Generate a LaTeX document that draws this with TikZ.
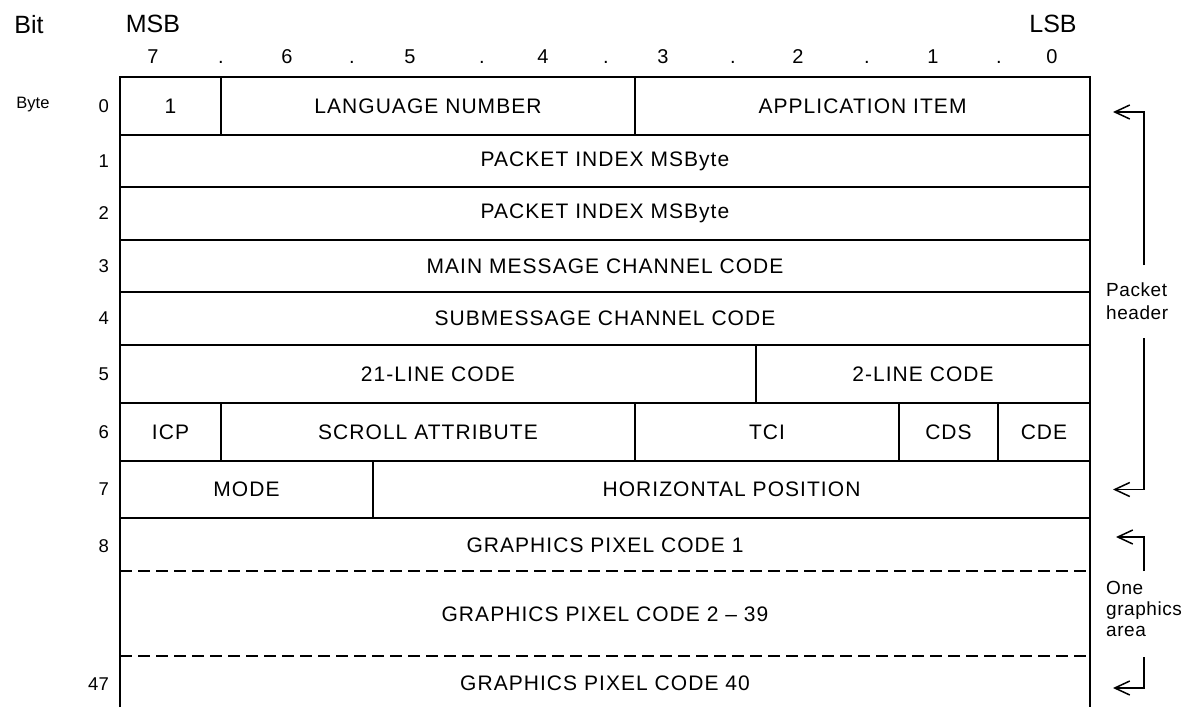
\documentclass[tikz,border=0pt]{standalone}
\usepackage{fontspec}
\setmainfont{Liberation Sans}
\newfontfamily\lab[LetterSpace=5]{Liberation Sans}
\newfontfamily\sidefont[LetterSpace=3]{Liberation Sans}
\usetikzlibrary{arrows.meta}
\begin{document}
\begin{tikzpicture}[x=1pt,y=-1pt,
  cell/.style={font=\lab\fontsize{21}{24}\selectfont, inner sep=0pt},
  big/.style={font=\fontsize{25}{28}\selectfont, inner sep=0pt},
  bitnum/.style={font=\fontsize{20}{24}\selectfont, inner sep=0pt, anchor=base},
  bytenum/.style={font=\fontsize{18.5}{22}\selectfont, inner sep=0pt, anchor=east},
  side/.style={inner sep=0pt, anchor=west, align=left},
  tbl/.style={line width=1.6pt},
  dsh/.style={line width=1.8pt, dash pattern=on 12pt off 6pt},
  brk/.style={line width=1.4pt},
  arr/.style={brk, -{Straight Barb[length=15pt,width=14pt,line width=1.5pt]}}
]
\useasboundingbox (0,0) rectangle (1194,707);
% header
\node[big] (bit) at (29,25) {Bit};
\node[big] (msb) at (153,24) {MSB};
\node[big] (lsb) at (1053,24) {LSB};
\node[font=\fontsize{16.5}{20}\selectfont, inner sep=0pt] (byte) at (33,105) {Byte};
\foreach \x/\t/\n in {153/7/b7,221/./d1,287/6/b6,352/./d2,410/5/b5,482/./d3,543/4/b4,606/./d4,663/3/b3,733/./d5,798/2/b2,867/./d6,933/1/b1,999/./d7,1052/0/b0}
  \node[bitnum] (\n) at (\x,63) {\t};
% table frame
\draw[tbl] (120,707) -- (120,77) -- (1090,77) -- (1090,707);
\foreach \y in {135,187,240,292,345,403,461,518}
  \draw[tbl] (120,\y) -- (1090,\y);
\draw[tbl] (221,77) -- (221,135);
\draw[tbl] (635,77) -- (635,135);
\draw[tbl] (756,345) -- (756,403);
\draw[tbl] (221,403) -- (221,461);
\draw[tbl] (635,403) -- (635,461);
\draw[tbl] (899,403) -- (899,461);
\draw[tbl] (998,403) -- (998,461);
\draw[tbl] (373,461) -- (373,518);
\draw[dsh] (120,571) -- (1090,571);
\draw[dsh] (120,656) -- (1090,656);
% byte numbers
\node[bytenum] (n0) at (109,106) {0};
\node[bytenum] (n1) at (109,161) {1};
\node[bytenum] (n2) at (109,213.5) {2};
\node[bytenum] (n3) at (109,266) {3};
\node[bytenum] (n4) at (109,318.5) {4};
\node[bytenum] (n5) at (109,374) {5};
\node[bytenum] (n6) at (109,432) {6};
\node[bytenum] (n7) at (109,489.5) {7};
\node[bytenum] (n8) at (109,546) {8};
\node[bytenum] (n47) at (109,684) {47};
% cells
\node[cell] (c01) at (170.5,106) {1};
\node[cell] (c02) at (428,106) {LANGUAGE NUMBER};
\node[cell] (c03) at (862.5,106) {APPLICATION ITEM};
\node[cell] (c1) at (605,161) {PACKET INDEX MSByte};
\node[cell] (c2) at (605,213.5) {PACKET INDEX MSByte};
\node[cell] (c3) at (605,266) {MAIN MESSAGE CHANNEL CODE};
\node[cell] (c4) at (605,318.5) {SUBMESSAGE CHANNEL CODE};
\node[cell] (c51) at (438,374) {21-LINE CODE};
\node[cell] (c52) at (923,374) {2-LINE CODE};
\node[cell] (c61) at (170.5,432) {ICP};
\node[cell] (c62) at (428,432) {SCROLL ATTRIBUTE};
\node[cell] (c63) at (767,432) {TCI};
\node[cell] (c64) at (948.5,432) {CDS};
\node[cell] (c65) at (1044,432) {CDE};
\node[cell] (c71) at (246.5,489.5) {MODE};
\node[cell] (c72) at (731.5,489.5) {HORIZONTAL POSITION};
\node[cell] (c8) at (605,545) {GRAPHICS PIXEL CODE 1};
\node[cell] (c9) at (605,614) {GRAPHICS PIXEL CODE 2 – 39};
\node[cell] (c47) at (605,683) {GRAPHICS PIXEL CODE 40};
% side labels
\node[side, font=\sidefont\fontsize{19}{23}\selectfont] (ph) at (1106,301.5) {Packet\\header};
\node[side, font=\sidefont\fontsize{19}{21}\selectfont] (ga) at (1106,609) {One\\graphics\\area};
\coordinate (pht) at (1144,112);
\coordinate (phta) at (1113,112);
\coordinate (phb) at (1144,489.5);
\coordinate (phba) at (1113,489.5);
\coordinate (gat) at (1144,537);
\coordinate (gata) at (1116,537);
\coordinate (gab) at (1144,688);
\coordinate (gaba) at (1113,688);
\draw[arr] (1144,265) -- (pht) -- (phta);
\draw[arr] (1144,338) -- (phb) -- (phba);
\draw[arr] (1144,571) -- (gat) -- (gata);
\draw[arr] (1144,657) -- (gab) -- (gaba);
\end{tikzpicture}
\end{document}
